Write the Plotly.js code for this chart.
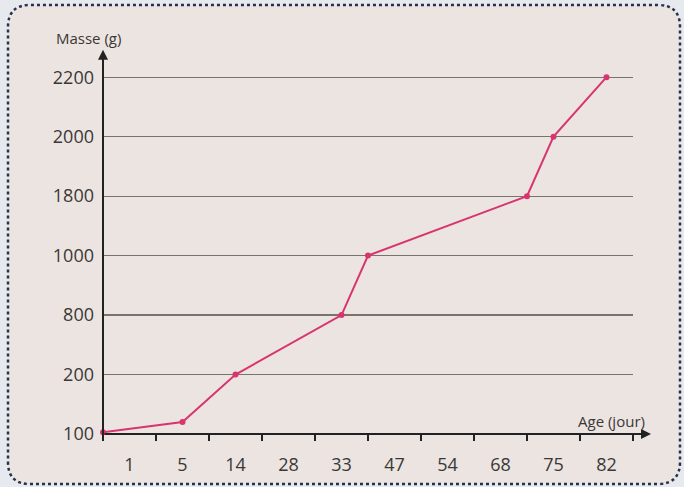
<!DOCTYPE html>
<html>
<head>
<meta charset="utf-8">
<script src="https://cdn.plot.ly/plotly-3.0.1.min.js"></script>
<style>html,body{margin:0;padding:0;background:#e6eaee;}#chart{width:684px;height:487px;}</style>
</head>
<body>
<div id="chart"></div>
<script>
// Category labels on the axes
const ageLabels = ['1', '5', '14', '28', '33', '47', '54', '68', '75', '82'];
const massLabels = ['100', '200', '800', '1000', '1800', '2000', '2200'];

// Series as drawn: position along the age axis (in category slots) and mass in grams
const pointAgeSlot = [-0.5, 1, 2, 4, 4.5, 7.5, 8, 9];
const pointMass = [103, 120, 200, 800, 1000, 1800, 2000, 2200];

// The mass axis is evenly spaced by label, so map grams onto label levels piecewise
const massLevels = massLabels.map(Number);
function massToLevel(m) {
  for (let i = 0; i < massLevels.length - 1; i++) {
    if (m <= massLevels[i + 1]) {
      return i + (m - massLevels[i]) / (massLevels[i + 1] - massLevels[i]);
    }
  }
  return massLevels.length - 1;
}
const pointLevel = pointMass.map(massToLevel);

const textColor = '#3a3836';
const font = 'Open Sans, Liberation Sans, sans-serif';
const pink = '#d83570';

const traces = [
  {
    x: pointAgeSlot,
    y: pointLevel,
    type: 'scatter',
    mode: 'lines+markers',
    line: {color: pink, width: 2},
    marker: {color: pink, size: 6},
    cliponaxis: false,
    hoverinfo: 'skip',
    showlegend: false
  },
  {
    x: [ageLabels.length - 0.5],
    y: [0],
    xaxis: 'x2',
    type: 'scatter',
    mode: 'markers',
    marker: {opacity: 0},
    hoverinfo: 'skip',
    showlegend: false
  }
];

const tickBounds = [];
for (let i = 0; i <= ageLabels.length; i++) tickBounds.push(i - 0.5);

const layout = {
  width: 684,
  height: 487,
  margin: {l: 103, r: 51, t: 76, b: 53},
  paper_bgcolor: '#e6eaee',
  plot_bgcolor: 'rgba(0,0,0,0)',
  font: {family: font, color: textColor},
  xaxis: {
    range: [-0.5, ageLabels.length - 0.5],
    tickvals: ageLabels.map((_, i) => i),
    ticktext: ageLabels,
    ticks: '',
    showgrid: false,
    zeroline: false,
    showline: false,
    tickfont: {size: 18, color: textColor, family: font},
    ticklabelstandoff: 18
  },
  xaxis2: {
    overlaying: 'x',
    matches: 'x',
    range: [-0.5, ageLabels.length - 0.5],
    tickvals: tickBounds,
    showticklabels: false,
    ticks: 'outside',
    ticklen: 6,
    tickwidth: 2,
    tickcolor: '#222',
    showgrid: false,
    zeroline: false,
    showline: false,
    side: 'bottom',
    anchor: 'y'
  },
  yaxis: {
    range: [0, massLabels.length - 0.98],
    tickvals: massLabels.map((_, i) => i),
    ticktext: massLabels,
    ticks: '',
    showgrid: true,
    gridcolor: '#78736e',
    gridwidth: 1.2,
    zeroline: false,
    showline: false,
    tickfont: {size: 18, color: textColor, family: font},
    ticklabelstandoff: 8
  },
  shapes: [
    {
      type: 'path',
      layer: 'below',
      xref: 'paper', yref: 'paper',
      xsizemode: 'pixel', ysizemode: 'pixel',
      xanchor: 0, yanchor: 0,
      path: 'M -73,-50 L 555,-50 Q 577,-50 577,-28 L 577,407 Q 577,429 555,429 L -73,429 Q -95,429 -95,407 L -95,-28 Q -95,-50 -73,-50 Z',
      fillcolor: '#ece4e0',
      line: {color: '#26314d', width: 2.5, dash: 'dot'}
    }
  ],
  annotations: [
    {
      xref: 'paper', yref: 'paper', x: 0, y: 1.073,
      axref: 'pixel', ayref: 'pixel', ax: 0, ay: 388,
      text: '', showarrow: true, arrowhead: 2, arrowsize: 1, arrowwidth: 2, arrowcolor: '#222'
    },
    {
      xref: 'paper', yref: 'paper', x: 1.034, y: 0,
      axref: 'pixel', ayref: 'pixel', ax: -548, ay: 0,
      text: '', showarrow: true, arrowhead: 2, arrowsize: 1, arrowwidth: 2, arrowcolor: '#222'
    },
    {
      xref: 'paper', yref: 'paper', x: -0.028, y: 1.107,
      text: 'Masse (g)', showarrow: false,
      font: {size: 15, color: textColor, family: font},
      xanchor: 'center', yanchor: 'middle'
    },
    {
      xref: 'paper', yref: 'paper', x: 0.960, y: 0.036,
      text: 'Age (jour)', showarrow: false,
      font: {size: 15, color: textColor, family: font},
      xanchor: 'center', yanchor: 'middle'
    }
  ]
};

Plotly.newPlot('chart', traces, layout, {displayModeBar: false, staticPlot: true});
</script>
</body>
</html>
